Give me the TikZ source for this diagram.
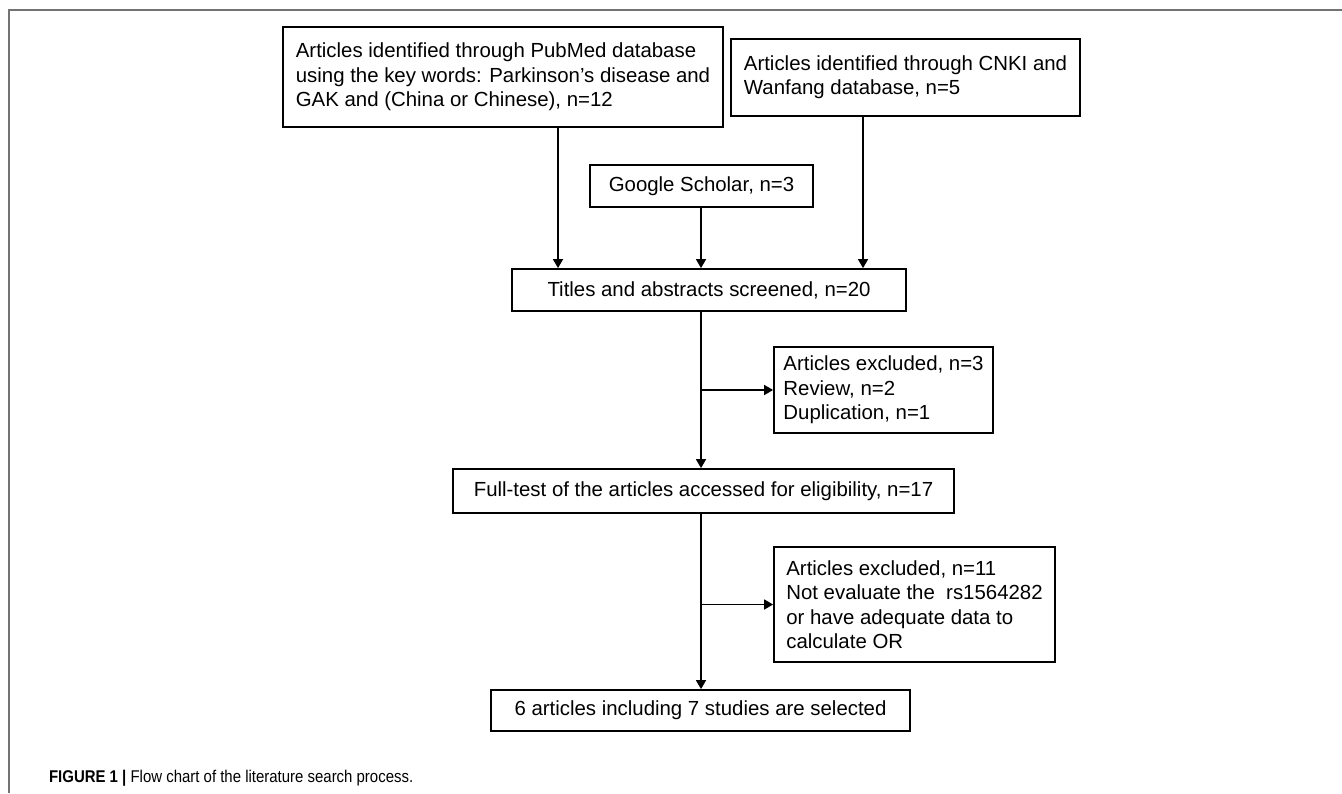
\documentclass[tikz,border=0pt]{standalone}
\usepackage{fontspec}
\setmainfont{Liberation Sans}
\newfontfamily\captfont[FakeStretch=0.88]{Liberation Sans}
\usetikzlibrary{arrows.meta, calc, positioning}
\tikzset{
  box/.style  ={draw, line width=0.9pt, inner sep=0pt, align=left, font=\fontsize{10.2}{12.2}\selectfont},
  cbox/.style ={box, align=center},
  arr/.style  ={-{Triangle[length=4.5pt, width=5pt]}, line width=0.8pt},   % flow arrow
  frm/.style  ={line width=1.2pt, black!55},
  capt/.style ={anchor=base west, font=\captfont\fontsize{8.5}{10}\selectfont},
}

\begin{document}
\begin{tikzpicture}[x=0.5pt, y=0.5pt]
  \useasboundingbox (0,0) rectangle (1342,-793);
  \draw[frm] (9,-793) -- (9,-10) -- (1342,-10);
  % sources
  \node[box, minimum width=220pt, minimum height=50pt] (pubmed) at (503,-77)
    {Articles identified through PubMed database\\
     using the key words: Parkinson’s disease and\\
     GAK and (China or Chinese), n=12};
  \node[box, minimum width=174.5pt, minimum height=38.5pt] (cnki) at (905.5,-77.5)
    {Articles identified through CNKI and\\ Wanfang database, n=5};
  \node[cbox, minimum width=111.5pt, minimum height=21pt] (google) at (701.5,-186)
    {Google Scholar, n=3};
  % screening
  \node[cbox, minimum width=197pt, minimum height=21pt] (titles) at (709,-290)
    {Titles and abstracts screened, n=20};
  \node[box, minimum width=109.5pt, minimum height=43pt] (excl1) at (883.5,-390)
    {Articles excluded, n=3\\ Review, n=2\\ Duplication, n=1};
  \node[cbox, minimum width=250.5pt, minimum height=22pt] (fulltext) at (703.5,-491)
    {Full-test of the articles accessed for eligibility, n=17};
  \node[box, minimum width=140.5pt, minimum height=57.5pt] (excl2) at (914.5,-604.5)
    {Articles excluded, n=11\\ Not evaluate the~ rs1564282\\
     or have adequate data to\\ calculate OR};
  \node[cbox, minimum width=209.5pt, minimum height=20.5pt] (final) at (700.5,-710.5)
    {6 articles including 7 studies are selected};
  % arrow columns
  \coordinate (pmx) at (558,0);
  \coordinate (cnx) at (863,0);
  \coordinate (tk)  at (701,0);
  \draw[arr] (pubmed.south -| pmx) -- (titles.north -| pmx);
  \draw[arr] (cnki.south -| cnx) -- (titles.north -| cnx);
  \draw[arr] (google.south -| tk) -- (titles.north -| tk);
  \draw[arr] (titles.south -| tk) -- (fulltext.north -| tk);
  \draw[arr] (tk |- excl1.west) -- (excl1.west);
  \draw[arr] (fulltext.south -| tk) -- (final.north -| tk);
  \draw[arr] (tk |- excl2.west) -- (excl2.west);
  \node[capt] (caption) at (42,-782)
    {\textbf{FIGURE 1 |} Flow chart of the literature search process.};
\end{tikzpicture}
\end{document}
